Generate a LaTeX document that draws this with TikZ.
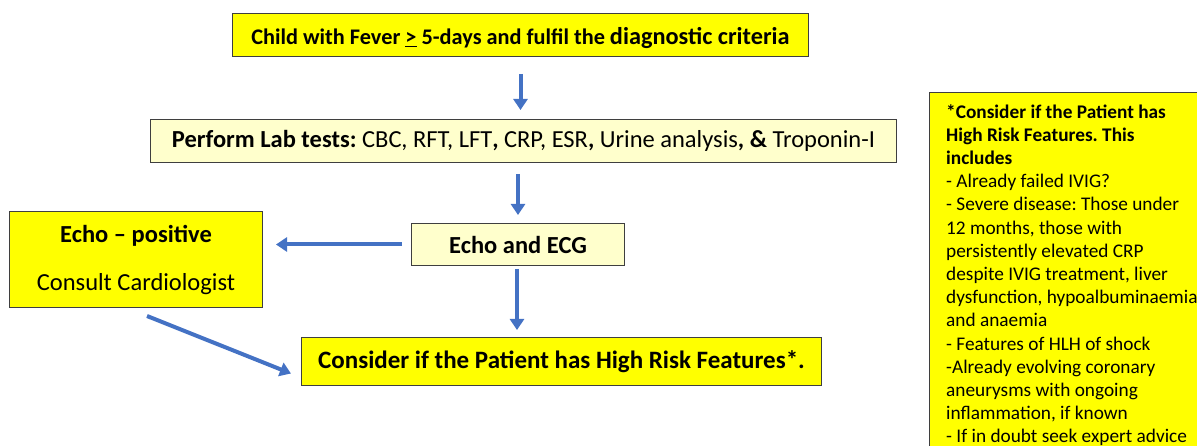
\documentclass[tikz,border=0pt]{standalone}
\usepackage{fontspec}
\setmainfont{Carlito}
\frenchspacing
\usetikzlibrary{arrows.meta,calc}
\definecolor{ybright}{HTML}{FFFF00}
\definecolor{ypale}{HTML}{FFFFCC}
\definecolor{bordergray}{HTML}{3F3F3F}
\definecolor{arrowblue}{HTML}{4472C4}
\begin{document}
\begin{tikzpicture}[x=1pt,y=-1pt,
  box/.style={draw=bordergray,line width=1pt,anchor=north west,inner sep=0pt,align=center},
  yb/.style={box,fill=ybright},
  yp/.style={box,fill=ypale},
  arr/.style={draw=arrowblue,line width=4pt,-{Triangle[length=11pt,width=14pt]}}]
\useasboundingbox (0,0) rectangle (1197,446);
\node[yb,minimum width=576pt,minimum height=43pt,text height=20pt,text depth=1pt,font=\fontsize{22.3}{26}\selectfont\bfseries] (top) at (232,13)
  {Child with Fever \underline{>} 5-days and fulfil the {\fontsize{24.3}{26}\selectfont diagnostic criteria}};
\node[yp,minimum width=746pt,minimum height=43pt,font=\fontsize{24.5}{28}\selectfont] (lab) at (150,119)
  {\textbf{Perform Lab tests:} CBC, RFT, LFT\textbf{,} CRP, ESR\textbf{,} Urine analysis\textbf{, \&} Troponin-I};
\node[yp,minimum width=213pt,minimum height=42pt,font=\fontsize{24.5}{28}\selectfont\bfseries] (echo) at (411,223)
  {Echo and ECG};
\node[yb,minimum width=253pt,minimum height=96pt,font=\fontsize{24.5}{48}\selectfont] (pos) at (9,211)
  {\textbf{Echo -- positive}\\Consult Cardiologist};
\node[yb,minimum width=520pt,minimum height=48pt,font=\fontsize{25}{28}\selectfont\bfseries] (cons) at (301,337)
  {Consider if the Patient has High Risk Features*.};
\node[yb,minimum width=300pt,minimum height=400pt] (risk) at (929,92) {};
\node[anchor=north west,align=left,inner sep=0pt,font=\fontsize{19.3}{23.2}\selectfont] (risktext) at (946,104)
  {\textbf{*Consider if the Patient has}\\
   \textbf{High Risk Features. This}\\
   \textbf{includes}\\
   - Already failed IVIG?\\
   - Severe disease: Those under\\
   12 months, those with\\
   persistently elevated CRP\\
   despite IVIG treatment, liver\\
   dysfunction, hypoalbuminaemia\\
   and anaemia\\
   - Features of HLH of shock\\
   -Already evolving coronary\\
   aneurysms with ongoing\\
   inflammation, if known\\
   - If in doubt seek expert advice};
\draw[arr,shorten <=17pt,shorten >=9pt] (top.south) -- (top.south |- lab.north);
\draw[arr,shorten <=11pt,shorten >=8pt] (echo.north |- lab.south) -- (echo.north);
\draw[arr,shorten <=9pt,shorten >=13pt] (echo.west) -- (echo.west -| pos.east);
\draw[arr,shorten <=3pt,shorten >=7pt] ([xshift=-1pt]echo.south) -- ([xshift=-1pt]echo.south |- cons.north);
\coordinate (p5s) at ($(pos.south west)+(138,8)$);
\coordinate (p5e) at ($(cons.west)+(-10,12)$);
\draw[arr] (p5s) -- (p5e);
\end{tikzpicture}
\end{document}
